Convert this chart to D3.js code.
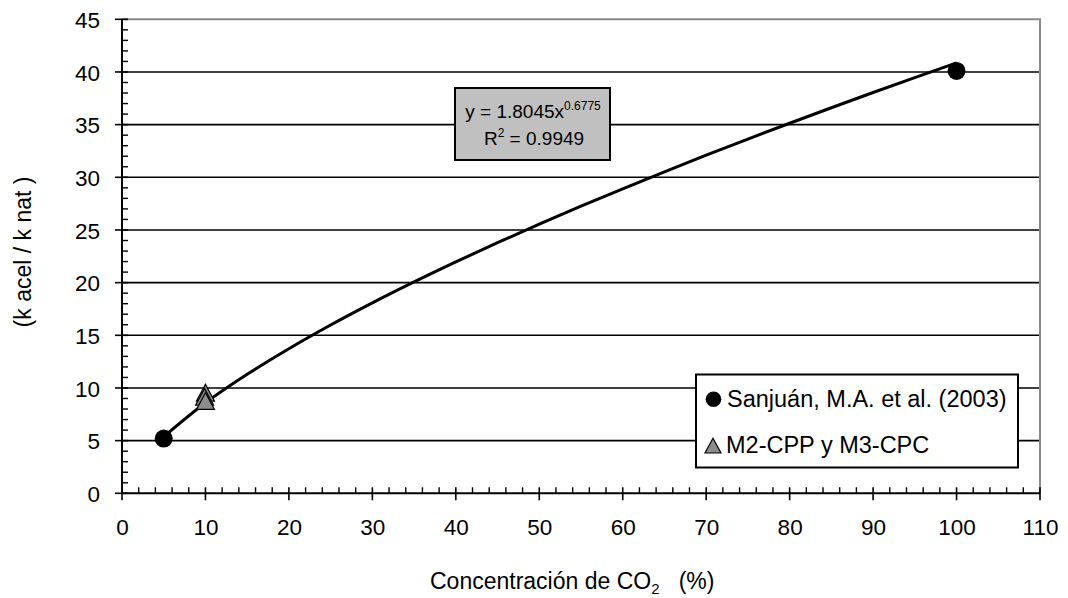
<!DOCTYPE html>
<html>
<head>
<meta charset="utf-8">
<script src="https://cdn.jsdelivr.net/npm/d3@7"></script>
<style>
  html, body { margin: 0; padding: 0; background: #fff; }
  svg { display: block; font-family: "Liberation Sans", Arial, sans-serif; }
</style>
</head>
<body>
<svg id="chart" width="1068" height="598"></svg>
<script>
// ---- data ----
const sanjuanX = [5, 100];
const sanjuanY = [5.2, 40.1];
const m2m3X = [10, 9.9, 10];
const m2m3Y = [9.4, 9.0, 8.6];
// trend line (power trend)
const trendX = [5, 10, 15, 20, 25, 30, 35, 40, 45, 50, 55, 60, 65, 70, 75, 80, 85, 90, 95, 100];
const trendY = [5.37, 8.59, 11.30, 13.73, 15.98, 18.08, 20.07, 21.97, 23.79, 25.55, 27.26, 28.91, 30.52, 32.10, 33.63, 35.13, 36.60, 38.05, 39.47, 40.87];
const xTicks = [0, 10, 20, 30, 40, 50, 60, 70, 80, 90, 100, 110];
const yTicks = [0, 5, 10, 15, 20, 25, 30, 35, 40, 45];
const legendLabels = ["Sanjuán, M.A. et al. (2003)", "M2-CPP y M3-CPC"];
const eqMain = "y = 1.8045x";
const eqExp = "0.6775";
const r2Text = "0.9949";

// ---- layout ----
const svg = d3.select("#chart");
const L = 122, R = 1040, T = 19.3, B = 493.3;
const x = d3.scaleLinear().domain([0, 110]).range([L, R]);
const y = d3.scaleLinear().domain([0, 45]).range([B, T]);
const FS_TICK = 22.5, FS_TITLE = 23, FS_LEG = 23.5, FS_EQ = 19;

// gridlines
svg.append("g").selectAll("line").data(yTicks.filter(d => d > 0 && d < 45)).join("line")
  .attr("x1", L).attr("x2", R).attr("y1", d => y(d)).attr("y2", d => y(d))
  .attr("stroke", "#000").attr("stroke-width", 1.6);

// top/right border (grey)
svg.append("path")
  .attr("d", `M${L},${y(45)}H${R}V${B}`)
  .attr("fill", "none").attr("stroke", "#8a8a8a").attr("stroke-width", 2);

// x axis
const xAxisG = svg.append("g").attr("transform", `translate(0,${B})`);
xAxisG.call(d3.axisBottom(x).tickValues(xTicks).tickSize(0).tickFormat(d3.format("d")))
  .call(g => g.select(".domain").remove())
  .call(g => g.selectAll("text").attr("font-size", FS_TICK).attr("fill", "#000")
      .attr("font-family", "Liberation Sans, Arial, sans-serif").attr("dy", null).attr("y", 42));
xAxisG.append("g").selectAll("line").data(xTicks).join("line")
  .attr("x1", d => x(d)).attr("x2", d => x(d)).attr("y1", -6).attr("y2", 7)
  .attr("stroke", "#000").attr("stroke-width", 1.6);
xAxisG.append("g").selectAll("line").data(d3.range(0, 111, 2).filter(d => d % 10 !== 0)).join("line")
  .attr("x1", d => x(d)).attr("x2", d => x(d)).attr("y1", -6).attr("y2", 0)
  .attr("stroke", "#000").attr("stroke-width", 1.4);
xAxisG.append("line").attr("x1", L).attr("x2", R).attr("y1", 0).attr("y2", 0)
  .attr("stroke", "#000").attr("stroke-width", 2);

// y axis
const yAxisG = svg.append("g").attr("transform", `translate(${L},0)`);
yAxisG.call(d3.axisLeft(y).tickValues(yTicks).tickSize(0).tickFormat(d3.format("d")))
  .call(g => g.select(".domain").remove())
  .call(g => g.selectAll("text").attr("font-size", FS_TICK).attr("fill", "#000")
      .attr("font-family", "Liberation Sans, Arial, sans-serif").attr("x", -22).attr("dy", "0.36em"));
yAxisG.append("g").selectAll("line").data(yTicks).join("line")
  .attr("x1", -7).attr("x2", 6).attr("y1", d => y(d)).attr("y2", d => y(d))
  .attr("stroke", "#000").attr("stroke-width", 1.6);
yAxisG.append("g").selectAll("line").data(d3.range(0, 46, 1).filter(d => d % 5 !== 0)).join("line")
  .attr("x1", 0).attr("x2", 6).attr("y1", d => y(d)).attr("y2", d => y(d))
  .attr("stroke", "#000").attr("stroke-width", 1.4);
yAxisG.append("line").attr("x1", 0).attr("x2", 0).attr("y1", y(0)).attr("y2", y(45))
  .attr("stroke", "#000").attr("stroke-width", 2);

// axis titles
const xt = svg.append("text").attr("x", 430).attr("y", 589).attr("text-anchor", "start")
  .attr("font-size", FS_TITLE).attr("fill", "#000").style("white-space", "pre");
xt.append("tspan").text("Concentración de CO");
xt.append("tspan").attr("font-size", 15).attr("dy", 5).text("2");
xt.append("tspan").attr("dy", -5).text("   (%)");

svg.append("text").attr("transform", "translate(31,252) rotate(-90)")
  .attr("text-anchor", "middle").attr("font-size", FS_TITLE).attr("fill", "#000")
  .style("white-space", "pre").text("(k acel / k nat )");

// trend line
const line = d3.line().x((d, i) => x(trendX[i])).y((d, i) => y(trendY[i])).curve(d3.curveMonotoneX);
svg.append("path").attr("d", line(trendX)).attr("fill", "none")
  .attr("stroke", "#000").attr("stroke-width", 3);

function tri(cx, cy, s) {
  return `M${cx},${cy - s * 1.1}L${cx + s},${cy + s * 0.75}L${cx - s},${cy + s * 0.75}Z`;
}

// M2/M3 triangles
svg.append("g").selectAll("path").data(m2m3X).join("path")
  .attr("d", (d, i) => tri(x(d), y(m2m3Y[i]), 9))
  .attr("fill", "#8c8c8c").attr("stroke", "#000").attr("stroke-width", 1.2);

// Sanjuán circles
svg.append("g").selectAll("circle").data(sanjuanX).join("circle")
  .attr("cx", d => x(d)).attr("cy", (d, i) => y(sanjuanY[i])).attr("r", 9)
  .attr("fill", "#000");

// equation box
const eq = svg.append("g");
eq.append("rect").attr("x", 455).attr("y", 88).attr("width", 155).attr("height", 72)
  .attr("fill", "#c0c0c0").attr("stroke", "#000").attr("stroke-width", 2);
const t1 = eq.append("text").attr("x", 533).attr("y", 118).attr("text-anchor", "middle")
  .attr("font-size", FS_EQ).attr("fill", "#000");
t1.append("tspan").text(eqMain);
t1.append("tspan").attr("font-size", 12).attr("dy", -8).text(eqExp);
const t2 = eq.append("text").attr("x", 534).attr("y", 145).attr("text-anchor", "middle")
  .attr("font-size", FS_EQ).attr("fill", "#000");
t2.append("tspan").text("R");
t2.append("tspan").attr("font-size", 12).attr("dy", -8).text("2");
t2.append("tspan").attr("dy", 8).text(" = " + r2Text);

// legend
const lg = svg.append("g");
lg.append("rect").attr("x", 696).attr("y", 374.5).attr("width", 322).attr("height", 93)
  .attr("fill", "#fff").attr("stroke", "#000").attr("stroke-width", 2);
lg.append("circle").attr("cx", 713.5).attr("cy", 399.3).attr("r", 7.8).attr("fill", "#000");
lg.append("text").attr("x", 727).attr("y", 407).attr("font-size", FS_LEG).attr("fill", "#000").text(legendLabels[0]);
lg.append("path").attr("d", tri(713, 447, 8)).attr("fill", "#8c8c8c").attr("stroke", "#000").attr("stroke-width", 1.2);
lg.append("text").attr("x", 726).attr("y", 453).attr("font-size", FS_LEG).attr("fill", "#000").text(legendLabels[1]);
</script>
</body>
</html>
